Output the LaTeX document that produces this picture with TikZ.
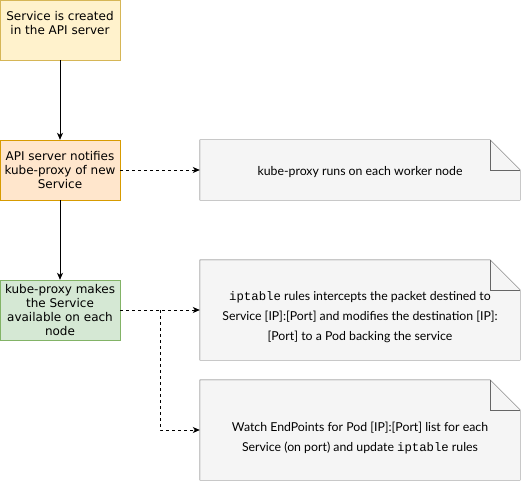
\documentclass[tikz,border=0pt]{standalone}
\usepackage{fontspec}
\setmainfont{DejaVu Sans}
\setmonofont{Liberation Mono}
\newfontfamily\notefont{Lato}
\usepackage{tikz}
\usetikzlibrary{arrows,arrows.meta,backgrounds,calc}

\definecolor{yfill}{HTML}{FFF2CC}
\definecolor{ydraw}{HTML}{D6B656}
\definecolor{ofill}{HTML}{FFE6CC}
\definecolor{odraw}{HTML}{D79B00}
\definecolor{gfill}{HTML}{D5E8D4}
\definecolor{gdraw}{HTML}{82B366}
\definecolor{nfill}{HTML}{F5F5F5}
\definecolor{ndraw}{HTML}{666666}

\tikzset{
  stepbox/.style={draw, minimum width=120pt, minimum height=60pt, align=center,
    inner sep=2pt, font=\fontsize{12}{14}\selectfont},
  notebox/.style={minimum width=320pt, inner sep=0pt},
  notetext/.style={align=center, inner sep=0pt,
    font=\notefont\fontsize{12.3}{20}\selectfont},
  flow/.style={-{Stealth[length=7pt,width=6pt,inset=2pt]}, line width=0.8pt},
  hint/.style={flow, dashed},
}

\begin{document}
\begin{tikzpicture}[x=1pt,y=1pt]
\useasboundingbox (0,0) rectangle (521,-481);
\node[stepbox, fill=yfill, draw=ydraw] (created) at (60,-30) {Service is created\\in the API server\\ \mbox{}};
\node[stepbox, fill=ofill, draw=odraw] (notify) at (60,-170) {API server notifies\\kube-proxy of new\\Service};
\node[stepbox, fill=gfill, draw=gdraw] (proxy) at (60,-310) {kube-proxy makes\\the Service\\available on each\\node};

\node[notebox, minimum height=60pt] (runs) at (360,-170) {};
\node[notebox, minimum height=100pt] (rules) at (360,-310) {};
\node[notebox, minimum height=100pt] (watch) at (360,-430) {};

% folded notes
\foreach \n in {runs,rules,watch}{
  \draw[fill=nfill, draw=ndraw] (\n.north west) -- ([xshift=-30pt]\n.north east)
    -- ([yshift=-30pt]\n.north east) -- (\n.south east) -- (\n.south west) -- cycle;
  \draw[draw=ndraw] ([xshift=-30pt]\n.north east) -- ([xshift=-30pt,yshift=-30pt]\n.north east)
    -- ([yshift=-30pt]\n.north east);
}
\node[notetext] (runs text) at ([yshift=-2pt]runs.center) {kube-proxy runs on each worker node};
\node[notetext] (rules text) at ([yshift=-7pt]rules.center) {\texttt{iptable} rules intercepts the packet destined to\\Service [IP]:[Port] and modifies the destination [IP]:\\{}[Port] to a Pod backing the service};
\node[notetext] (watch text) at ([yshift=-8pt]watch.center) {Watch EndPoints for Pod [IP]:[Port] list for each\\Service (on port) and update \texttt{iptable} rules};

\coordinate (split) at (160,-310);
\draw[flow] (created) -- (notify);
\draw[flow] (notify) -- (proxy);
\draw[hint] (notify) -- (runs);
\draw[hint] (proxy) -- (rules);
\draw[hint] (split) |- (watch);
\end{tikzpicture}
\end{document}
